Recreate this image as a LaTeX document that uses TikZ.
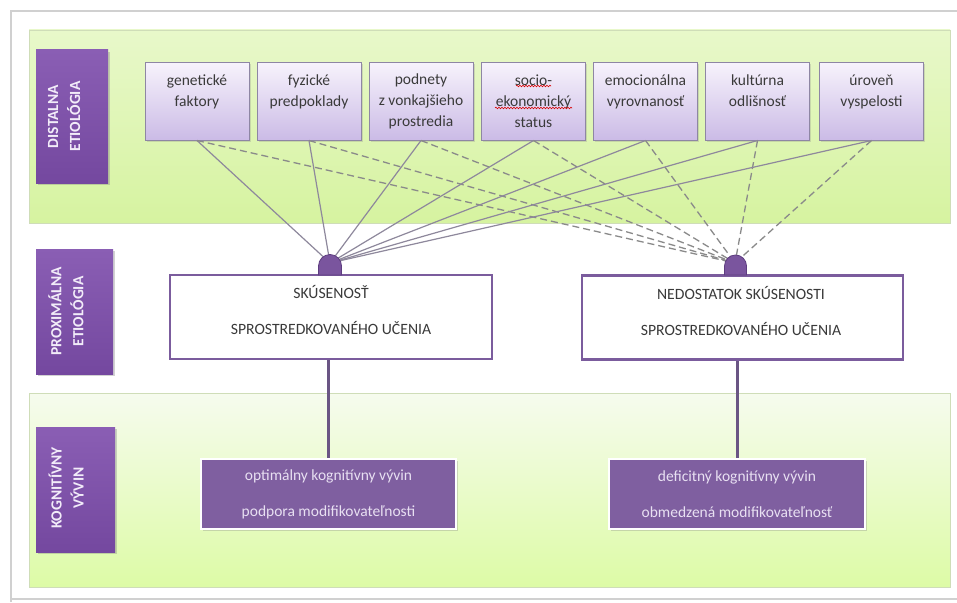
\documentclass[tikz,border=0pt]{standalone}
\usepackage{fontspec}
\setmainfont{Carlito}
\usetikzlibrary{shadows,decorations.pathmorphing}
\definecolor{bandTopA}{HTML}{E8F8CA}
\definecolor{bandBotA}{HTML}{D6F3A0}
\definecolor{bandTopB}{HTML}{F6FBEE}
\definecolor{bandBotB}{HTML}{DDFBA6}
\definecolor{bandEdge}{HTML}{CFDDB8}
\definecolor{labTop}{HTML}{8A5EB4}
\definecolor{labBot}{HTML}{74489F}
\definecolor{labText}{HTML}{F2ECF9}
\definecolor{fTop}{HTML}{F7F3FC}
\definecolor{fBot}{HTML}{CBBBE6}
\definecolor{fBorder}{HTML}{8E86A4}
\definecolor{bumpFill}{HTML}{7A559E}
\definecolor{bumpDraw}{HTML}{5E3D80}
\definecolor{mainBorder}{HTML}{7B5C9D}
\definecolor{vlinkCol}{HTML}{6A5584}
\definecolor{outFill}{HTML}{7F5FA0}
\definecolor{outText}{HTML}{E8E0F2}
\definecolor{txt}{HTML}{3A3A3A}
\definecolor{solidLine}{HTML}{8E889C}
\definecolor{dashLine}{HTML}{8A8A8A}
\definecolor{frameCol}{HTML}{D0D0D0}
\begin{document}
\begin{tikzpicture}[x=1pt,y=-1pt,
  band/.style={draw=bandEdge, line width=0.8pt},
  labbox/.style={draw=none, top color=labTop, bottom color=labBot, inner sep=0pt,
    drop shadow={opacity=0.35, shadow xshift=2pt, shadow yshift=-2pt}},
  labtext/.style={rotate=90, text=labText, align=center, inner sep=0pt,
    font=\bfseries\fontsize{15.5}{22}\selectfont},
  fbox/.style={draw=fBorder, line width=1pt, top color=fTop, bottom color=fBot,
    minimum width=104pt, minimum height=78pt, inner sep=0pt, align=center, text=txt,
    font=\fontsize{15.5}{21}\selectfont,
    drop shadow={opacity=0.25, shadow xshift=1.5pt, shadow yshift=-1.5pt}},
  mainbox/.style={draw=mainBorder, line width=2.5pt, fill=white, inner sep=0pt,
    minimum height=84pt},
  maintext/.style={align=center, text=txt, inner sep=0pt, font=\fontsize{15.7}{21}\selectfont},
  outbox/.style={draw=white, line width=2.5pt, fill=outFill, inner sep=0pt,
    minimum width=255pt, minimum height=70pt, align=center, text=outText,
    font=\fontsize{15.5}{21}\selectfont,
    drop shadow={opacity=0.3, shadow xshift=1.5pt, shadow yshift=-2pt}},
  solidlink/.style={draw=solidLine, line width=1.2pt},
  dashlink/.style={draw=dashLine, line width=1.3pt, dash pattern=on 7pt off 4pt},
  bumpstyle/.style={fill=bumpFill, draw=bumpDraw, line width=0.8pt},
  vlink/.style={draw=vlinkCol, line width=3pt},
  spell/.style={draw=red!85!black, line width=0.6pt, decorate,
    decoration={snake, amplitude=0.8pt, segment length=3pt}}
]
\useasboundingbox (0,0) rectangle (957,602);
\fill[white] (0,0) rectangle (957,602);
% outer frame
\draw[frameCol, line width=1.5pt] (11,602) -- (11,11) -- (957,11);
\draw[frameCol, line width=1.5pt] (11,599) -- (957,599);

% bands
\path[band, top color=bandTopA, bottom color=bandBotA] (29,30) rectangle (950,223);
\path[band, top color=bandTopB, bottom color=bandBotB] (29,393) rectangle (950,587);

% left labels
\node[labbox, minimum width=72pt, minimum height=133pt] (L1) at (72,116.5) {};
\node[labtext] (L1t) at (64,116.5) {DISTALNA\\ETIOLÓGIA};
\node[labbox, minimum width=77pt, minimum height=125pt] (L2) at (74.5,311.5) {};
\node[labtext] (L2t) at (66,311.5) {PROXIMÁLNA\\ETIOLÓGIA};
\node[labbox, minimum width=79pt, minimum height=125pt] (L3) at (75.5,489.5) {};
\node[labtext] (L3t) at (66,488) {KOGNITÍVNY\\VÝVIN};

% factor boxes
\node[fbox] (f1) at (197,101)   {genetické\\faktory\\\mbox{}};
\node[fbox] (f2) at (309,101)   {fyzické\\predpoklady\\\mbox{}};
\node[fbox] (f3) at (421,101)   {podnety\\z vonkajšieho\\prostredia};
\node[fbox] (f4) at (533.5,101) {socio-\\ekonomický\\status};
\node[fbox] (f5) at (645.5,101) {emocionálna\\vyrovnanosť\\\mbox{}};
\node[fbox] (f6) at (757.5,101) {kultúrna\\odlišnosť\\\mbox{}};
\node[fbox] (f7) at (871.5,101) {úroveň\\vyspelosti\\\mbox{}};
% spell-check underlines
\draw[spell] (516,86) -- (551,86);
\draw[spell] (495,108) -- (572,108);

% main boxes
\node[mainbox, minimum width=322pt] (mL) at (331,317) {};
\node[maintext] (mLt) at (331,310) {SKÚSENOSŤ\\[15pt]SPROSTREDKOVANÉHO UČENIA};
\node[mainbox, minimum width=321pt] (mR) at (742.5,317.5) {};
\node[maintext] (mRt) at (741,311) {NEDOSTATOK SKÚSENOSTI\\[15pt]SPROSTREDKOVANÉHO UČENIA};

% bump anchor points
\coordinate (bL) at (330,263);
\coordinate (bR) at (735,263);

% links
\foreach \f in {f1,f2,f3,f4,f5,f6,f7}{
  \draw[solidlink] (\f.south) -- (bL);
  \draw[dashlink] (\f.south) -- (bR);
}

% bumps
\path[bumpstyle] (318.5,275) -- (318.5,266) arc[start angle=180, end angle=0, radius=11.5pt] -- (341.5,275) -- cycle;
\path[bumpstyle] (724.5,275) -- (724.5,266) arc[start angle=180, end angle=0, radius=11pt] -- (746.5,275) -- cycle;

% outcome boxes
\node[outbox] (oL) at (328.5,494) {optimálny kognitívny vývin\\[15pt]podpora modifikovateľnosti};
\node[outbox, minimum width=256pt] (oR) at (737,494) {deficitný kognitívny vývin\\[15pt]obmedzená modifikovateľnosť};

% vertical links
\draw[vlink] (oL.north) -- (oL.north |- mL.south);
\draw[vlink] (oR.north) -- (oR.north |- mR.south);
\end{tikzpicture}
\end{document}
